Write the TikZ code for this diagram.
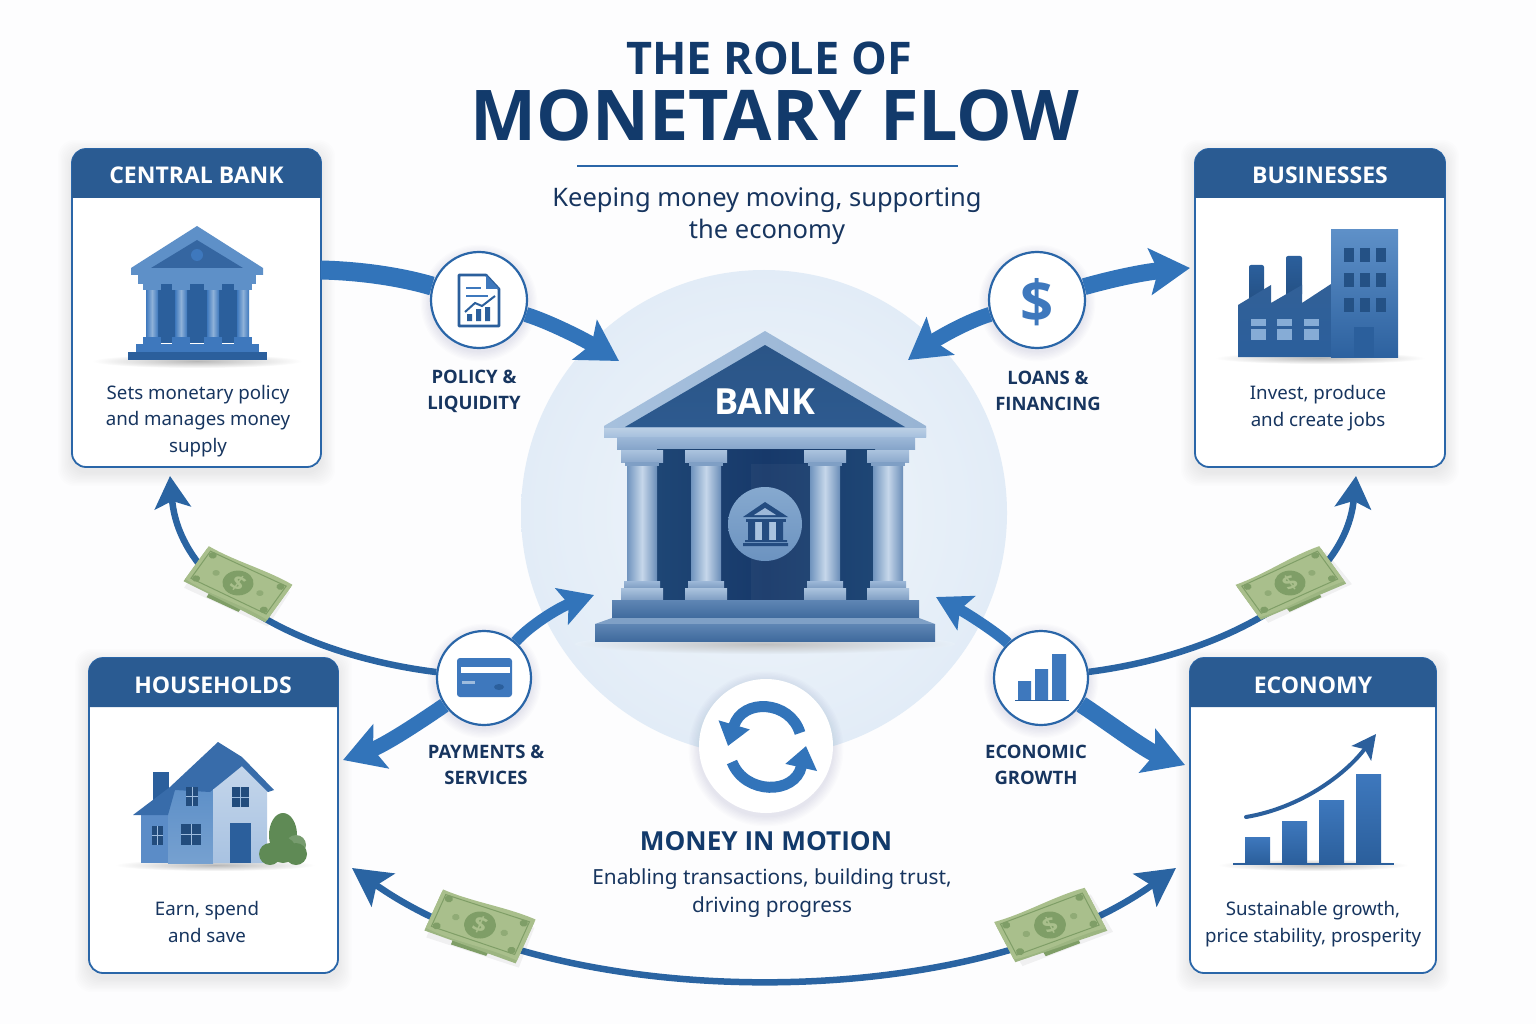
\documentclass[tikz,border=0pt]{standalone}
\usepackage{fontspec}
\setmainfont{Noto Sans}
\newfontfamily\strongfont{Open Sans}
\usetikzlibrary{arrows.meta}
\usepackage{xcolor}

\definecolor{pagewhite}{HTML}{FDFDFE}
\definecolor{titleink}{HTML}{123A6B}
\definecolor{bodyink}{HTML}{17355F}
\definecolor{headblue}{HTML}{2A5B92}
\definecolor{edgeblue}{HTML}{2A66A8}
\definecolor{flowblue}{HTML}{3274BA}
\definecolor{threadblue}{HTML}{2A64A2}
\definecolor{iconblue}{HTML}{3E78BD}
\definecolor{iconpale}{HTML}{5E90C8}
\definecolor{icondeep}{HTML}{2B5F9C}
\definecolor{billface}{HTML}{A9BF8C}
\definecolor{billdark}{HTML}{7F9E67}
\definecolor{leafgreen}{HTML}{5F8A55}
\definecolor{discin}{HTML}{F1F6FB}
\definecolor{discout}{HTML}{E2ECF7}
\definecolor{discmid}{HTML}{E6EFF8}
\definecolor{roofa}{HTML}{A6C0DD}
\definecolor{roofb}{HTML}{98B4D4}
\definecolor{gablea}{HTML}{2B5587}
\definecolor{gableb}{HTML}{2D5A8F}
\definecolor{corniceblue}{HTML}{BBCFE5}
\definecolor{friezea}{HTML}{9DB8D8}
\definecolor{friezeb}{HTML}{86A5CA}
\definecolor{walla}{HTML}{1E4675}
\definecolor{wallb}{HTML}{17396A}
\definecolor{capa}{HTML}{ABC3DE}
\definecolor{capb}{HTML}{8CA9CC}
\definecolor{neckblue}{HTML}{7F9FC5}
\definecolor{shafta}{HTML}{7094BE}
\definecolor{shaftb}{HTML}{6A8DB8}
\definecolor{shaftc}{HTML}{C6D7EA}
\definecolor{basea}{HTML}{7F9EC3}
\definecolor{stepa}{HTML}{5F86B4}
\definecolor{stepb}{HTML}{3F6A9D}
\definecolor{stepc}{HTML}{7FA0C6}
\definecolor{badgea}{HTML}{86A9CF}
\definecolor{badgeb}{HTML}{6C93C0}
\definecolor{badgeink}{HTML}{244C80}
\definecolor{badgepale}{HTML}{A9C3DF}

\tikzset{
    cardbox/.style={draw=edgeblue,fill=white,line width=1.8pt,rounded corners=14pt,inner sep=0pt},
    cardtitle/.style={text=white,font=\fontsize{23}{26}\selectfont\strongfont\bfseries},
    cardtext/.style={text=bodyink,align=center,font=\fontsize{18.7}{26.6}\selectfont},
    flowlabel/.style={text=bodyink,align=center,font=\fontsize{18.5}{26}\selectfont\strongfont\bfseries},
    hubcircle/.style={circle,draw=edgeblue,fill=white,line width=2.2pt,minimum size=94pt,inner sep=0pt},
    flowthick/.style={draw=flowblue,line width=15pt,-{Stealth[length=40pt,width=46pt,inset=8pt]}},
    flowmid/.style={draw=flowblue,line width=11pt,-{Stealth[length=34pt,width=38pt,inset=7pt]}},
    flowthin/.style={draw=threadblue,line width=6.5pt,-{Stealth[length=32pt,width=36pt,inset=7pt]}},
    flowboth/.style={draw=threadblue,line width=6.5pt,{Stealth[length=38pt,width=40pt,inset=8pt]}-{Stealth[length=38pt,width=40pt,inset=8pt]}},
    groundshade/.style={inner color=black!28,outer color=white},
    moneybill/.pic={
        % Draw the bill with its stack and shadow
        \fill[black,opacity=.05] (-40,-14) -- (44,-14) -- (46,28) -- (-38,28) -- cycle;
        \fill[billdark] (-18,-4) -- (18,-4) -- (16,27) -- (-16,27) -- cycle;
        \fill[billface!70!billdark] (-42,-19) -- (42,-19) -- (42,25) -- (-42,22) -- cycle;
        \fill[billface] (-42,-22) .. controls (-14,-19) and (14,-25) .. (42,-22)
            -- (42,22) .. controls (14,18) and (-14,24) .. (-42,19) -- cycle;
        \draw[billdark,line width=1pt] (-38,-18) -- (38,-18) -- (38,17) -- (-38,16) -- cycle;
        \fill[billdark] (0,0) circle (13.5);
        \foreach \bx in {-34,34} \foreach \by in {-15,14} \fill[billdark] (\bx,\by) circle (3.5);
        \foreach \bx in {-22,22} \fill[billdark!60!billface] (\bx,0) circle (3.2);
        \node[transform shape,text=billface,inner sep=0pt,font=\fontsize{21}{21}\selectfont\strongfont\bfseries] (-sign) at (0,0) {\$};
    }
}

% Soft shadows are stacked transparent shapes
\newcommand{\softrect}[4]{
    \foreach \s in {1,...,10} \fill[titleink,opacity=.008,rounded corners=16pt]
        (#1-\s*1.4,#2-\s*1.4+5) rectangle (#3+\s*1.4,#4+\s*1.4+5);
}
\newcommand{\softdisc}[3]{
    \foreach \s in {1,...,8} \fill[titleink,opacity=.012] (#1,#2+3) circle (#3+\s*1.3);
}
\newcommand{\cardhead}[4]{
    \fill[headblue] (#1,#4) [rounded corners=14pt] -- (#1,#3) -- (#2,#3) [sharp corners] -- (#2,#4) -- cycle;
}

\begin{document}
\begin{tikzpicture}[x=1pt,y=-1pt]
        \useasboundingbox (0,0) rectangle (1536,1024);
        % Draw page background and the light disc behind the bank
        \fill[pagewhite] (0,0) rectangle (1536,1024);
        \shade[inner color=discin,outer color=discout] (764,513) circle (243);

        % Draw title block
        \node[text=titleink,font=\fontsize{45}{48}\selectfont\strongfont\bfseries] (titletop) at (769,58) {THE ROLE OF};
        \node[text=titleink,font=\fontsize{70}{74}\selectfont\strongfont\bfseries] (titlemain) at (775,115) {MONETARY FLOW};
        \draw[edgeblue,line width=1.5pt] (577,166) -- (958,166);
        \node[text=bodyink,align=center,font=\fontsize{25.5}{32}\selectfont] (subtitle) at (767,216) {Keeping money moving, supporting\\the economy};

        % Draw the four cards
        \softrect{72}{149}{321}{467}
        \node[cardbox,minimum width=249pt,minimum height=318pt] (centralbank) at (196.5,308) {};
        \cardhead{72}{321}{149}{198}
        \node[cardtitle] (centraltitle) at (196.5,175) {CENTRAL BANK};
        \node[cardtext] (centraltext) at (198,421) {Sets monetary policy\\and manages money\\supply};

        \softrect{1195}{149}{1445}{467}
        \node[cardbox,minimum width=250pt,minimum height=318pt] (businesses) at (1320,308) {};
        \cardhead{1195}{1445}{149}{198}
        \node[cardtitle] (businesstitle) at (1320,175) {BUSINESSES};
        \node[cardtext] (businesstext) at (1318,408) {Invest, produce\\and create jobs};

        \softrect{89}{658}{338}{973}
        \node[cardbox,minimum width=249pt,minimum height=315pt] (households) at (213.5,815.5) {};
        \cardhead{89}{338}{658}{707}
        \node[cardtitle] (householdtitle) at (213,685) {HOUSEHOLDS};
        \node[cardtext] (householdtext) at (207,922) {Earn, spend\\and save};

        \softrect{1190}{658}{1436}{973}
        \node[cardbox,minimum width=246pt,minimum height=315pt] (economy) at (1313,815.5) {};
        \cardhead{1190}{1436}{658}{707}
        \node[cardtitle] (economytitle) at (1313,685) {ECONOMY};
        \node[cardtext] (economytext) at (1313,924) {Sustainable growth,\\price stability, prosperity};

        % Draw small temple in the central bank card
        \shade[groundshade] (197,361) ellipse (105 and 7);
        \fill[iconpale] (197,226) -- (263,268) -- (263,275) -- (131,275) -- (131,268) -- cycle;
        \fill[iconblue!85!black] (197,240) -- (243,268) -- (151,268) -- cycle;
        \fill[iconblue] (197,255) circle (6);
        \fill[icondeep] (150,283) rectangle (246,343);
        \fill[iconpale] (138,275) rectangle (256,284);
        \foreach \cx in {152,181,213,243} {
            \fill[iconpale] (\cx-9,284) rectangle (\cx+9,290);
            \shade[left color=iconblue,right color=iconblue,middle color=iconpale!70!white] (\cx-6,290) rectangle (\cx+6,337);
            \fill[iconblue] (\cx-9,337) rectangle (\cx+9,344);
        }
        \fill[iconblue] (136,344) rectangle (259,352);
        \fill[icondeep] (128,352) rectangle (267,360);

        % Draw factory and office tower
        \shade[groundshade] (1320,358) ellipse (105 and 6);
        \shade[top color=icondeep,bottom color=icondeep!85!black,rounded corners=2pt] (1249,265) rectangle (1264,300);
        \shade[top color=icondeep,bottom color=icondeep!85!black,rounded corners=2pt] (1286,256) rectangle (1302,296);
        \shade[top color=iconblue!80!black,bottom color=icondeep] (1238,305) -- (1271,285) -- (1271,303) -- (1302,285) -- (1302,303) -- (1331,284) -- (1331,357) -- (1238,357) -- cycle;
        \shade[top color=iconpale,bottom color=icondeep!90!iconblue] (1331,230) rectangle (1398,357);
        \foreach \wx in {1344,1360,1376} \foreach \wy in {248,273,298}
            \fill[icondeep!85!black] (\wx,\wy) rectangle (\wx+10,\wy+14);
        \fill[icondeep] (1354,327) rectangle (1374,357);
        \foreach \wx in {1251,1277,1304} {
            \fill[iconpale!75!white] (\wx,319) rectangle (\wx+15,326);
            \fill[iconpale!75!white] (\wx,329) rectangle (\wx+15,340);
        }

        % Draw house with a bush
        \shade[groundshade] (215,865) ellipse (100 and 6);
        \fill[icondeep] (153,772) rectangle (169,800);
        \fill[iconblue!85!white] (141,815) rectangle (170,863);
        \shade[top color=iconpale,bottom color=iconpale!85!white] (168,790) rectangle (213,863);
        \shade[top color=iconblue!30!white,bottom color=iconblue!45!white] (213,790) -- (242,762) -- (267,790) -- (267,863) -- (213,863) -- cycle;
        \fill[iconblue!90!black] (133,815) -- (170,787) -- (218,742) -- (242,757) -- (274,790) -- (268,792) -- (242,766) -- (210,792) -- (175,790) -- (168,815) -- cycle;
        \foreach \wx/\wy/\ww/\wh in {186/787/12/19,232/787/17/20,181/824/20/21,152/826/11/19} {
            \fill[icondeep!80!black] (\wx,\wy) rectangle (\wx+\ww,\wy+\wh);
            \draw[iconpale!60!white,line width=.8pt] (\wx+\ww/2,\wy) -- (\wx+\ww/2,\wy+\wh) (\wx,\wy+\wh/2) -- (\wx+\ww,\wy+\wh/2);
        }
        \fill[icondeep] (230,823) rectangle (251,863);
        \fill[leafgreen] (283,835) ellipse (14 and 22);
        \fill[leafgreen!85!white] (296,845) circle (10);
        \fill[leafgreen] (270,854) circle (11);
        \fill[leafgreen] (296,854) circle (11);
        \fill[leafgreen] (283,850) circle (13);

        % Draw growth chart
        \shade[groundshade] (1313,865) ellipse (95 and 6);
        \foreach \bx/\by in {1245/837,1282/821,1319/800,1356/774}
            \shade[top color=iconblue,bottom color=icondeep] (\bx,\by) rectangle (\bx+25,863);
        \draw[icondeep,line width=2pt] (1233,863.5) -- (1394,863.5);
        \draw[icondeep,line width=4pt,line cap=round,-{Stealth[length=24pt,width=24pt,inset=5pt]}] (1246,817) .. controls (1300,808) and (1345,775) .. (1376,734);

        % Draw the hub circles
        \softdisc{479}{300}{48}
        \node[hubcircle,minimum size=96pt] (policy) at (479,300) {};
        \softdisc{1037}{300}{48}
        \node[hubcircle,minimum size=96pt] (loans) at (1037,300) {};
        \softdisc{484}{678}{47}
        \node[hubcircle] (payments) at (484,678) {};
        \softdisc{1041}{678}{47}
        \node[hubcircle] (growth) at (1041,678) {};

        % Free ends of the arrows
        \coordinate (policyfrom) at (321,270);
        \coordinate (bankleft) at (619,361);
        \coordinate (bankright) at (908,360);
        \coordinate (bizarrive) at (1190,268);
        \coordinate (banklow) at (594,595);
        \coordinate (homearrive) at (343,760);
        \coordinate (bankgrowth) at (936,597);
        \coordinate (econarrive) at (1185,765);
        \coordinate (centralarrive) at (170,476);
        \coordinate (bizlow) at (1356,476);
        \coordinate (homelow) at (352,868);
        \coordinate (econlow) at (1176,868);

        % Draw the flows between hubs, cards and bank
        \draw[draw=flowblue,line width=19pt] (policyfrom) .. controls (365,271) and (405,278) .. (policy);
        \draw[flowthick] (policy) .. controls (550,322) and (585,340) .. (bankleft);
        \draw[flowthick,line width=17pt] (loans) .. controls (1115,278) and (1145,272) .. (bizarrive);
        \draw[flowthick] (loans) .. controls (965,322) and (935,340) .. (bankright);
        \draw[flowmid] (payments) .. controls (530,625) and (560,607) .. (banklow);
        \draw[flowthick] (payments) .. controls (420,722) and (385,745) .. (homearrive);
        \draw[flowmid] (growth) .. controls (1000,635) and (970,615) .. (bankgrowth);
        \draw[flowthick,line width=17pt] (growth) .. controls (1105,720) and (1145,750) .. (econarrive);
        \draw[flowthin] (payments) .. controls (300,655) and (180,590) .. (centralarrive);
        \draw[flowthin] (growth) .. controls (1220,655) and (1345,590) .. (bizlow);
        \draw[flowboth] (homelow) .. controls (560,1015) and (970,1015) .. (econlow);

        % Draw bills on the thin flows
        \pic[xscale=1.15,yscale=.92,rotate=-30] (billcentral) at (238,583) {moneybill};
        \pic[xscale=1.15,yscale=.92,rotate=30] (billbiz) at (1290,583) {moneybill};
        \pic[xscale=1.18,yscale=1,rotate=-21] (billhome) at (480,925) {moneybill};
        \pic[xscale=1.18,yscale=1,rotate=24] (billecon) at (1050,925) {moneybill};

        % Draw hub icons
        \draw[icondeep,line width=2.6pt,line join=round] (459,275) -- (486,275) -- (499,289) -- (499,326) -- (459,326) -- cycle;
        \fill[iconblue] (486,275) -- (499,289) -- (486,289) -- cycle;
        \draw[iconblue,line width=2.2pt] (466,288) -- (481,288) (466,296) -- (488,296);
        \fill[icondeep] (467,314) rectangle (472,321) (476,309) rectangle (481,321) (485,307) rectangle (490,321);
        \draw[icondeep,line width=2pt] (465,312) -- (475,303) -- (482,306) -- (495,296);
        \node[text=iconblue,inner sep=0pt,font=\fontsize{58}{58}\selectfont\strongfont\bfseries] (dollarsign) at (1037,302) {\$};
        \fill[iconblue,rounded corners=3pt] (457,658) rectangle (512,697);
        \fill[white] (461,667) rectangle (510,673);
        \fill[iconpale!60!white] (462,681) rectangle (475,684);
        \fill[icondeep] (499,687) ellipse (5 and 3);
        \fill[iconblue] (1018,681) rectangle (1031,700) (1035,669) rectangle (1048,700) (1052,654) rectangle (1066,700);
        \draw[icondeep,line width=1.8pt] (1015,700.5) -- (1069,700.5);

        % Draw hub labels
        \node[flowlabel] (policylabel) at (474,391) {POLICY \&\\LIQUIDITY};
        \node[flowlabel] (loanslabel) at (1048,391) {LOANS \&\\FINANCING};
        \node[flowlabel] (paymentslabel) at (486,765) {PAYMENTS \&\\SERVICES};
        \node[flowlabel] (growthlabel) at (1036,765) {ECONOMIC\\GROWTH};

        % Draw the big bank
        \shade[inner color=black!25,outer color=discmid] (765,644) ellipse (190 and 10);
        \shade[left color=roofa,right color=roofb] (604,437) -- (604,426) -- (765,331) -- (926,426) -- (926,437) -- cycle;
        \shade[top color=gablea,bottom color=gableb] (765,345) -- (905,427) -- (625,427) -- cycle;
        \node[text=white,font=\fontsize{36}{38}\selectfont\strongfont\bfseries] (banktitle) at (765,402) {BANK};
        \shade[top color=corniceblue,bottom color=roofa] (604,428) rectangle (926,437);
        \shade[top color=friezea,bottom color=friezeb] (617,437) rectangle (915,449);
        \shade[left color=walla,right color=walla,middle color=wallb] (657,449) rectangle (875,600);
        \fill[white,opacity=.04] (751,464) rectangle (810,600);
        \foreach \cx in {642,706,825,888} {
            \shade[top color=capa,bottom color=capb] (\cx-21,450) rectangle (\cx+21,462);
            \fill[neckblue] (\cx-17,462) rectangle (\cx+17,466);
            \shade[left color=shafta,right color=shaftb,middle color=shaftc] (\cx-15,466) rectangle (\cx+15,581);
            \shade[top color=friezea,bottom color=basea] (\cx-18,581) rectangle (\cx+18,588);
            \shade[top color=capa,bottom color=basea] (\cx-21,588) rectangle (\cx+21,600);
        }
        \shade[top color=stepa,bottom color=stepb] (612,600) rectangle (919,618);
        \fill[stepc] (612,618) -- (919,618) -- (935,624) -- (595,624) -- cycle;
        \shade[top color=stepa,bottom color=stepb] (595,624) rectangle (935,641);
        % Draw badge on the bank door
        \shade[top color=badgea,bottom color=badgeb] (765,524) circle (37);
        \fill[badgeink] (765,502) -- (788,517) -- (743,517) -- cycle;
        \fill[friezea] (765,508) -- (776,515) -- (754,515) -- cycle;
        \fill[badgeink] (746,519) rectangle (786,522);
        \fill[badgepale] (751,522) rectangle (780,540);
        \fill[badgeink] (748,522) rectangle (755,540) (762,522) rectangle (769,540) (776,522) rectangle (783,540);
        \fill[badgeink] (745,540) rectangle (787,542) (743,543) rectangle (788,546);

        % Draw the turning arrows disc
        \softdisc{766}{746}{67}
        \fill[white] (766,746) circle (67);
        \draw[flowblue,line width=11pt,-{Triangle[length=22pt,width=31pt]}] (800,733) .. controls (790,700) and (742,698) .. (728,746);
        \draw[flowblue,line width=11pt,-{Triangle[length=22pt,width=31pt]}] (732,762) .. controls (745,795) and (795,795) .. (806,746);

        % Draw closing text
        \node[text=titleink,font=\fontsize{26.2}{30}\selectfont\strongfont\bfseries] (motiontitle) at (766,841) {MONEY IN MOTION};
        \node[text=bodyink,align=center,font=\fontsize{20.8}{28.5}\selectfont] (motiontext) at (772,893) {Enabling transactions, building trust,\\driving progress};
    \end{tikzpicture}
\end{document}
